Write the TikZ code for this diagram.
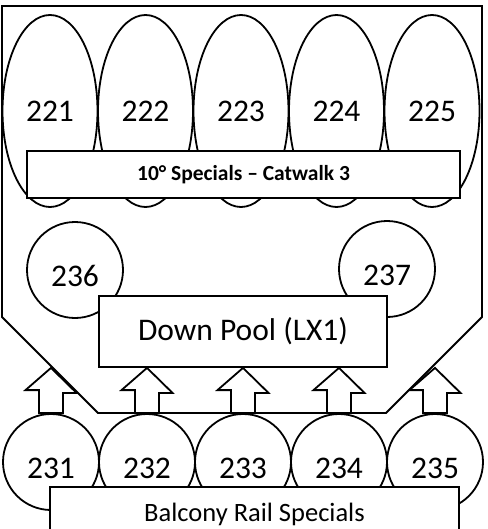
\documentclass[tikz,border=0pt]{standalone}
\usepackage{fontspec}
\setmainfont{Carlito}
\usetikzlibrary{shapes.geometric}

% hollow up-arrow from a lower circle to the pool box
\newcommand{\feedarrow}[1]{%
	\draw[feed] (pool.south -| #1.north) -- ++(25.5,25) -- ++(-13.5,0) -- ([xshift=12pt]#1.north) -- ([xshift=-12pt]#1.north) -- ++(0,-23) -- ++(-13.5,0) -- cycle;}

\begin{document}
\begin{tikzpicture}[x=1pt, y=-1pt, line width=1.8pt, line join=miter,
	big/.style={font=\fontsize{31.5}{38}\selectfont},
	oval/.style={draw, ellipse, minimum width=95pt, minimum height=192pt, inner sep=0pt, big},
	spot/.style={draw, circle, minimum size=96pt, inner sep=0pt, text height=33pt, big},
	panel/.style={draw, fill=white, inner sep=0pt},
	feed/.style={draw, fill=white}]
	\useasboundingbox (0,0) rectangle (487,529);
	% outline of the catwalk area
	\draw (2,6) -- (482,6) -- (482,317) -- (386,413) -- (98,413) -- (2,317) -- cycle;
	\node[oval] (e221) at (50,111) {221};
	\node[oval] (e222) at (145.5,111) {222};
	\node[oval] (e223) at (241,111) {223};
	\node[oval] (e224) at (336.5,111) {224};
	\node[oval] (e225) at (432,111) {225};
	\node[panel, minimum width=433pt, minimum height=47pt, font=\fontsize{21.5}{26}\selectfont\bfseries] (catwalk) at (243.5,174.5) {10° Specials -- Catwalk 3};
	\node[spot] (c236) at (75,270) {236};
	\node[spot] (c237) at (387,269) {237};
	\node[panel, minimum width=288pt, minimum height=71pt, big] (pool) at (243,331.5) {Down Pool (LX1)};
	\node[spot] (c231) at (51,462) {231};
	\node[spot] (c232) at (147,462) {232};
	\node[spot] (c233) at (243,462) {233};
	\node[spot] (c234) at (339,462) {234};
	\node[spot] (c235) at (435,462) {235};
	\feedarrow{c231}
	\feedarrow{c232}
	\feedarrow{c233}
	\feedarrow{c234}
	\feedarrow{c235}
	\node[panel, minimum width=409pt, minimum height=54pt, font=\fontsize{26.5}{32}\selectfont] (balcony) at (254.5,514) {Balcony Rail Specials};
\end{tikzpicture}
\end{document}
